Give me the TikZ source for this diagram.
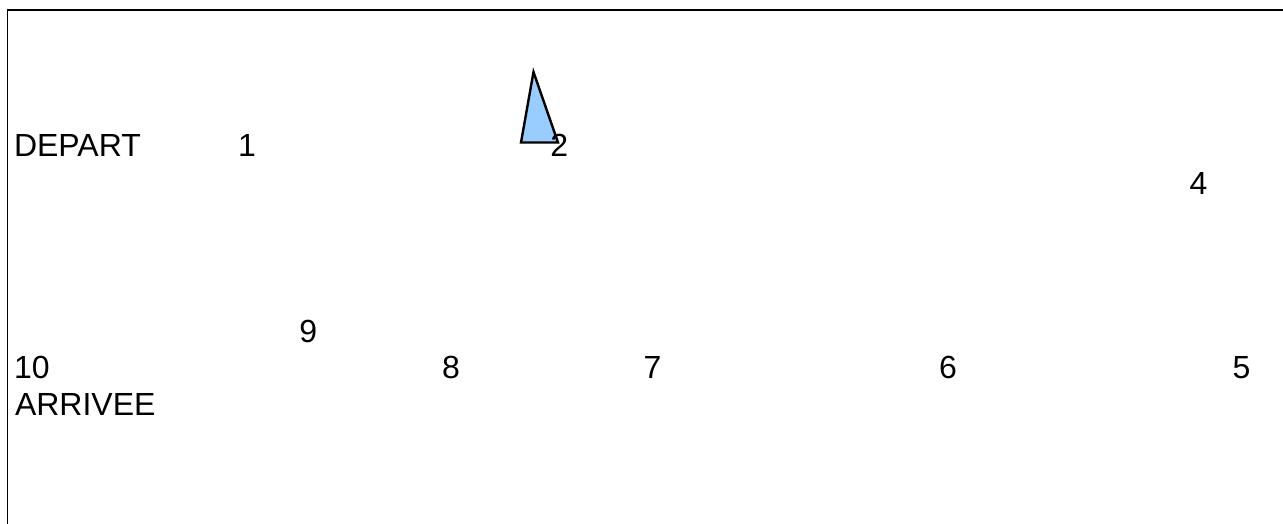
\documentclass[tikz,border=0pt]{standalone}
\usepackage{fontspec}
\setmainfont{Liberation Sans}
\begin{document}
\begin{tikzpicture}[x=1pt,y=-1pt,
  lbl/.style={inner sep=0pt,outer sep=0pt,font=\fontsize{32}{37}\selectfont,anchor=base},
  lblw/.style={lbl,anchor=base west},
  frameline/.style={draw=black,line width=1.2pt},
  marker/.style={draw=black,fill=markerblue,line width=2.4pt,line join=miter}]
\definecolor{markerblue}{HTML}{99CCFF}
\useasboundingbox (0,0) rectangle (1283,524);
\fill[white] (0,0) rectangle (1283,524);
\draw[frameline] (7.5,524) -- (7.5,10) -- (1283,10);
\draw[marker] (533.5,72) -- (558,142.5) -- (521,142.5) -- cycle;
\node[lblw] (depart) at (14,157) {DEPART};
\node[lbl] (n1) at (247,157) {1};
\node[lbl] (n2) at (559.2,157) {2};
\node[lbl] (n4) at (1198.4,194) {4};
\node[lbl] (n9) at (308.3,342) {9};
\node[lblw] (n10) at (14,378) {10};
\node[lbl] (n8) at (451,378) {8};
\node[lbl] (n7) at (652.5,378) {7};
\node[lbl] (n6) at (948,378) {6};
\node[lbl] (n5) at (1241.5,378) {5};
\node[lblw] (arrivee) at (15,415) {ARRIVEE};
\end{tikzpicture}
\end{document}
